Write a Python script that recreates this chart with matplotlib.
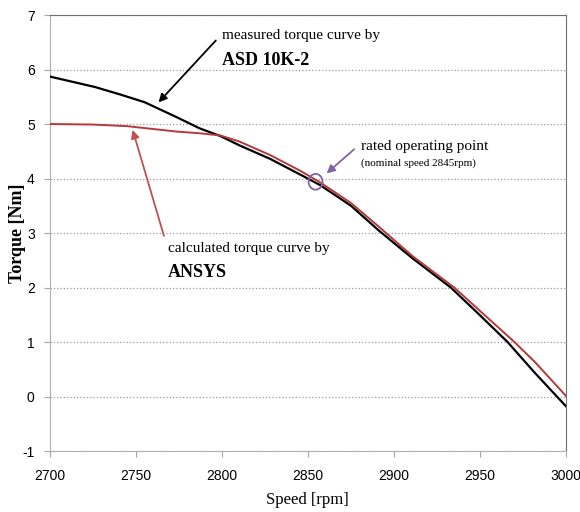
import matplotlib.pyplot as plt
from matplotlib.patches import Ellipse

plt.rcParams['axes.unicode_minus'] = False

# measured torque curve (ASD 10K-2)
speed_meas = [2700, 2726, 2741, 2755, 2774, 2787, 2799, 2810, 2828, 2845, 2857, 2875, 2891, 2911, 2933, 2950, 2966, 2982, 3000]
torque_meas = [5.87, 5.68, 5.54, 5.40, 5.12, 4.92, 4.78, 4.61, 4.36, 4.08, 3.88, 3.50, 3.05, 2.53, 2.00, 1.49, 1.00, 0.43, -0.18]

# calculated torque curve (ANSYS)
speed_calc = [2700, 2725, 2745, 2774, 2787, 2799, 2810, 2828, 2845, 2857, 2875, 2891, 2911, 2935, 2950, 2970, 2982, 3000]
torque_calc = [5.00, 4.99, 4.96, 4.86, 4.83, 4.79, 4.68, 4.43, 4.15, 3.93, 3.55, 3.12, 2.57, 2.00, 1.57, 1.00, 0.63, 0.01]

xticks = [2700, 2750, 2800, 2850, 2900, 2950, 3000]
yticks = [-1, 0, 1, 2, 3, 4, 5, 6, 7]

serif = ['Liberation Serif', 'DejaVu Serif']
tickfont = ['Liberation Sans', 'DejaVu Sans']

fig = plt.figure(figsize=(5.8, 5.12), dpi=100)
ax = fig.add_axes([0.0862, 0.1191, 0.8897, 0.8516])

ax.plot(speed_meas, torque_meas, color='black', lw=1.6, zorder=3)
ax.plot(speed_calc, torque_calc, color='#b5383a', lw=1.4, zorder=4)

ax.set_xlim(2700, 3000)
ax.set_ylim(-1, 7)
ax.set_xticks(xticks)
ax.set_yticks(yticks)
for lab in ax.get_xticklabels() + ax.get_yticklabels():
    lab.set_family(tickfont)
    lab.set_fontsize(10)
ax.tick_params(direction='out', length=4, color='#a6a6a6')
ax.tick_params(axis='x', pad=9)
ax.tick_params(axis='y', pad=7)
ax.grid(axis='y', linestyle=':', color='#9a9a9a', lw=0.9)

for s in ['left', 'bottom']:
    ax.spines[s].set_color('#b0b0b0')
for s in ['top', 'right']:
    ax.spines[s].set_color('#6e6e6e')

ax.set_xlabel('Speed [rpm]', family=serif, fontsize=12)
ax.set_ylabel('Torque [Nm]', family=serif, fontsize=13, fontweight='bold')
ax.xaxis.set_label_coords(0.499, -0.095)
ax.yaxis.set_label_coords(-0.047, 0.5)

# measured annotation
ax.text(2800, 6.62, 'measured torque curve by', family=serif, fontsize=11, va='center')
ax.text(2800, 6.17, 'ASD 10K-2', family=serif, fontsize=13, fontweight='bold', va='center')
ax.annotate('', xy=(2762, 5.36), xytext=(2797.5, 6.57),
            arrowprops=dict(arrowstyle='-|>', color='black', lw=1.3, mutation_scale=12))

# calculated annotation
ax.text(2768.5, 2.72, 'calculated torque curve by', family=serif, fontsize=11, va='center')
ax.text(2768.5, 2.28, 'ANSYS', family=serif, fontsize=13, fontweight='bold', va='center')
ax.annotate('', xy=(2747.6, 4.94), xytext=(2766.7, 2.90),
            arrowprops=dict(arrowstyle='-|>', color='#c0504d', lw=1.3, mutation_scale=12))

# rated operating point
ax.text(2881, 4.59, 'rated operating point', family=serif, fontsize=11, va='center')
ax.text(2881, 4.28, '(nominal speed 2845rpm)', family=serif, fontsize=8, va='center')
ax.annotate('', xy=(2859.6, 4.06), xytext=(2878, 4.57),
            arrowprops=dict(arrowstyle='-|>', color='#8064a2', lw=1.3, mutation_scale=12))
ax.add_patch(Ellipse((2854.4, 3.94), 8.1, 0.29, fill=False, ec='#8064a2', lw=1.3, zorder=5))

fig.savefig('out.png', dpi=100)
